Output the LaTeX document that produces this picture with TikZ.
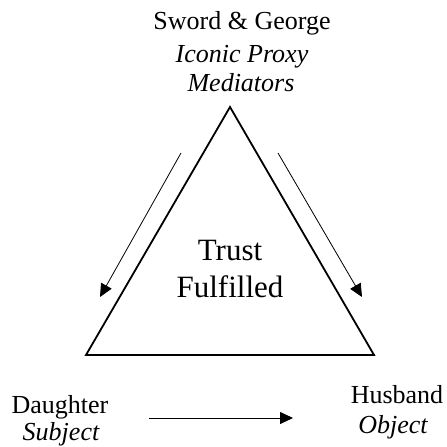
\documentclass[tikz,border=0pt]{standalone}
\usepackage{fontspec}
\setmainfont{Liberation Serif}
\usetikzlibrary{arrows.meta}
\tikzset{
  lbl/.style={anchor=base, inner sep=0pt, font=\fontsize{26}{30}\selectfont},
  lblit/.style={lbl, font=\fontsize{26}{30}\selectfont\itshape},
  big/.style={anchor=base, inner sep=0pt, font=\fontsize{31}{37}\selectfont},
  tri/.style={line width=1.8pt, line join=miter},
  arr/.style={line width=0.8pt, -{Triangle[length=13pt,width=12pt]}}
}
\begin{document}
\begin{tikzpicture}[x=1pt,y=1pt]
\fill[white] (0,0) rectangle (447,-447);
\useasboundingbox (0,0) rectangle (447,-447);
% triangle
\coordinate (apex) at (230,-107);
\coordinate (bl) at (86,-355);
\coordinate (br) at (374,-355);
\draw[tri] (apex) -- (bl) -- (br) -- cycle;
% top label
\node[lbl] (t1) at (242,-29) {Sword \& George};
\node[lblit] (t2) at (242,-62) {Iconic Proxy};
\node[lblit] (t3) at (241,-91) {Mediators};
% center
\node[big] (c1) at (230,-260) {Trust};
\node[big] (c2) at (230,-297) {Fulfilled};
% bottom labels
\node[lbl] (d1) at (60,-413) {Daughter};
\node[lblit] (d2) at (61,-440) {Subject};
\node[lbl] (h1) at (397,-403) {Husband};
\node[lblit] (h2) at (393,-433) {Object};
% arrows
\coordinate (la1) at (181,-153);
\coordinate (la2) at (100,-297);
\coordinate (ra1) at (278,-153);
\coordinate (ra2) at (362,-297);
\coordinate (ba1) at (149,-418);
\coordinate (ba2) at (293,-418);
\draw[arr] (la1) -- (la2);
\draw[arr] (ra1) -- (ra2);
\draw[arr] (ba1) -- (ba2);
\end{tikzpicture}
\end{document}
